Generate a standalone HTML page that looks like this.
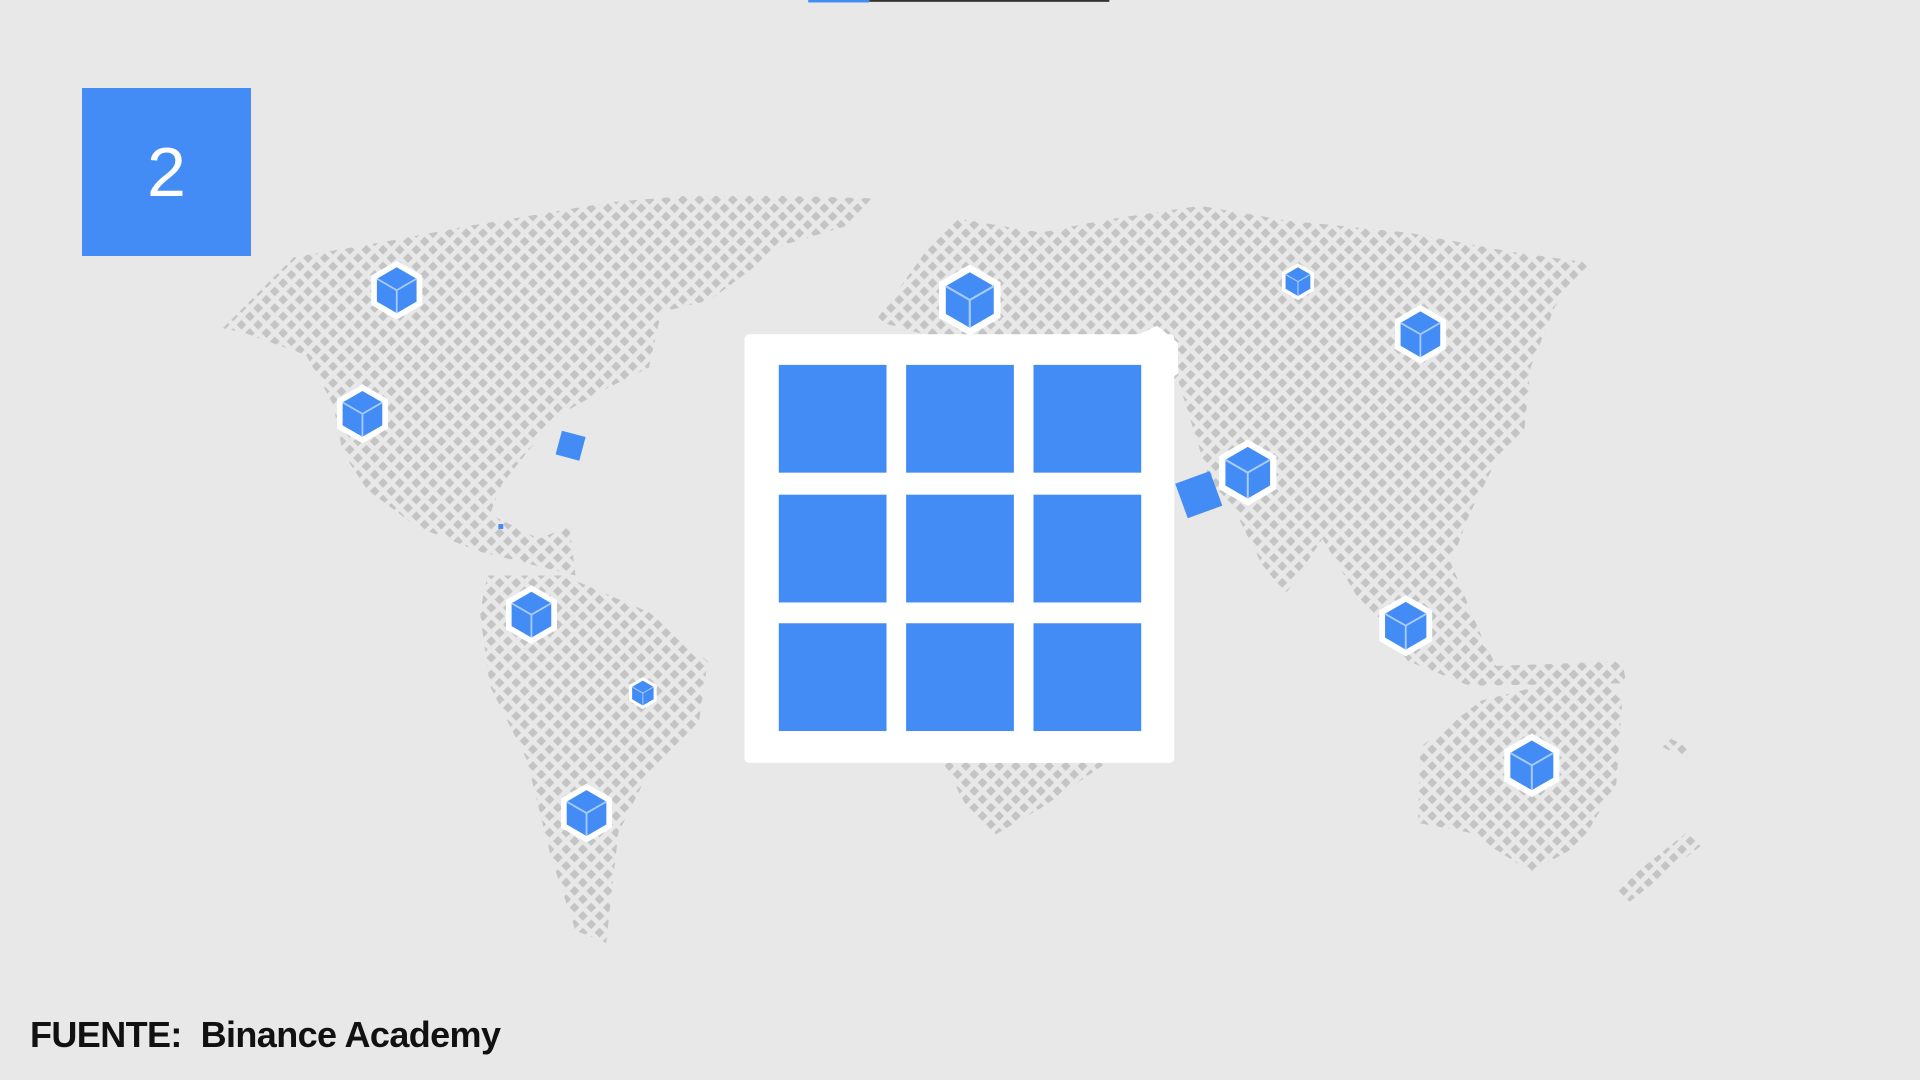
<!DOCTYPE html>
<html><head><meta charset="utf-8"><style>
html,body{margin:0;padding:0;background:#e8e8e8;width:1920px;height:1080px;overflow:hidden;position:relative;font-family:"Liberation Sans",sans-serif}
#box{position:absolute;left:82px;top:88px;width:169px;height:168px;background:#448cf5;color:#fff;font-size:70px;font-weight:300;text-align:center;line-height:168px}
#src{position:absolute;left:30px;top:1014px;font-size:36px;font-weight:bold;color:#111;white-space:pre;letter-spacing:-0.6px}
</style></head><body>
<svg width="1920" height="1080" viewBox="0 0 1568 882" style="position:absolute;left:0;top:0">
<defs>
<pattern id="dots" width="13.6" height="13.6" patternUnits="userSpaceOnUse">
<polygon points="0,-4 4,0 0,4 -4,0" fill="#c4c4c4"/>
<polygon points="13.6,-4 17.6,0 13.6,4 9.6,0" fill="#c4c4c4"/>
<polygon points="0,9.6 4,13.6 0,17.6 -4,13.6" fill="#c4c4c4"/>
<polygon points="13.6,9.6 17.6,13.6 13.6,17.6 9.6,13.6" fill="#c4c4c4"/>
<polygon points="6.8,2.8 10.8,6.8 6.8,10.8 2.8,6.8" fill="#c4c4c4"/>
</pattern>
<g id="cube">
<polygon points="0,-1 0.866,-0.5 0.866,0.5 0,1 -0.866,0.5 -0.866,-0.5" fill="#fff"/>
<polygon points="0,-0.78 0.675,-0.39 0.675,0.39 0,0.78 -0.675,0.39 -0.675,-0.39" fill="#448cf5"/>
<path d="M0,0 L-0.675,-0.39 M0,0 L0.675,-0.39 M0,0 L0,0.78" stroke="#a9ccff" stroke-width="0.06" fill="none"/>
</g>
</defs>
<rect x="660" y="0" width="50" height="2" fill="#448cf5"/>
<rect x="710" y="0" width="196" height="1.5" fill="#333"/>
<g fill="url(#dots)">
<polygon points="182,268 240,210 300,200 380,185 440,175 500,165 560,160 640,160 712,162 690,185 640,200 580,245 540,255 530,300 490,320 455,340 430,370 410,395 400,420 440,440 465,430 470,470 430,460 390,450 340,430 300,400 280,370 272,330 250,290 200,272"/>
<polygon points="398,470 460,470 530,500 578,540 570,595 530,630 505,680 495,770 470,760 450,700 430,620 400,560 392,500"/>
<polygon points="715,262 760,200 780,178 850,190 900,180 980,168 1050,180 1150,190 1230,205 1300,215 1270,250 1250,300 1245,350 1220,380 1200,420 1185,460 1210,520 1225,550 1200,560 1150,540 1110,490 1080,440 1050,485 1030,460 1010,420 990,400 962,310 900,300 850,290 780,280"/>
<polygon points="770,622 905,622 850,660 812,682 790,660"/>
<polygon points="1160,610 1210,572 1250,562 1290,540 1325,570 1320,640 1290,690 1250,712 1200,680 1158,672"/>
<polygon points="1318,727 1330,737 1390,690 1380,678"/>
<polygon points="1190,545 1325,540 1328,558 1200,560"/>
<polygon points="1362,602 1382,612 1376,620 1358,610"/>
</g>
<rect x="608" y="273" width="351" height="350" rx="4" fill="#fff"/>
<polygon points="930,273 945,266 962,280 962,305 955,310" fill="#fff"/>
<g fill="#448cf5">
<rect x="636" y="298" width="88" height="88"/><rect x="740" y="298" width="88" height="88"/><rect x="844" y="298" width="88" height="88"/>
<rect x="636" y="404" width="88" height="88"/><rect x="740" y="404" width="88" height="88"/><rect x="844" y="404" width="88" height="88"/>
<rect x="636" y="509" width="88" height="88"/><rect x="740" y="509" width="88" height="88"/><rect x="844" y="509" width="88" height="88"/>
<rect x="456" y="354" width="20" height="20" transform="rotate(15 466 364)"/>
<rect x="964" y="389" width="30" height="30" transform="rotate(-20 979 404)"/>
<rect x="407" y="428" width="4" height="4"/>
</g>
<use href="#cube" transform="translate(324,237) scale(24)"/>
<use href="#cube" transform="translate(296,338) scale(24)"/>
<use href="#cube" transform="translate(434,502) scale(24)"/>
<use href="#cube" transform="translate(525,566) scale(13)"/>
<use href="#cube" transform="translate(479,664) scale(24)"/>
<use href="#cube" transform="translate(792,245) scale(29)"/>
<use href="#cube" transform="translate(1060,230) scale(15)"/>
<use href="#cube" transform="translate(1160,273) scale(24)"/>
<use href="#cube" transform="translate(1019,386) scale(27)"/>
<use href="#cube" transform="translate(1148,511) scale(25)"/>
<use href="#cube" transform="translate(1251,625) scale(26)"/>
</svg>
<div id="box">2</div>
<div id="src">FUENTE:  Binance Academy</div>
</body></html>
